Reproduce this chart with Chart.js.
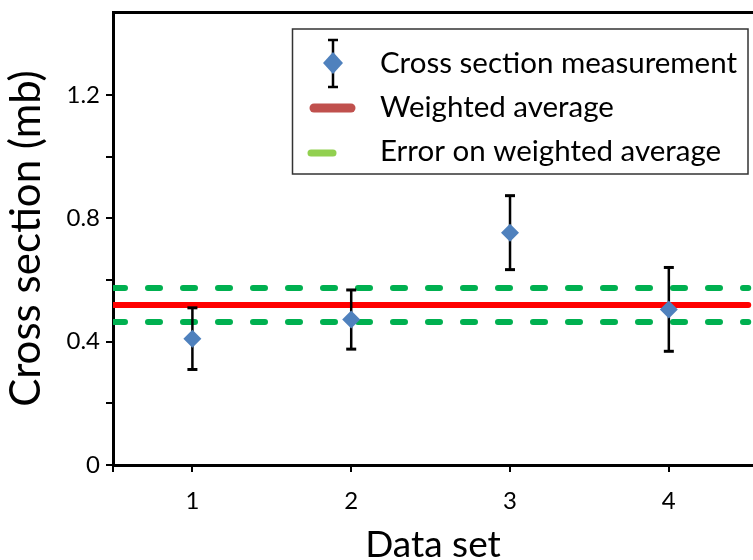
<!DOCTYPE html>
<html>
<head>
<meta charset="utf-8">
<script src="https://cdn.jsdelivr.net/npm/chart.js@4/dist/chart.umd.min.js"></script>
<style>
  html, body { margin: 0; padding: 0; background: #fff; }
  canvas { display: block; }
</style>
</head>
<body>
<canvas id="chart" width="753" height="560"></canvas>
<script>
// values
const dataSets = [1, 2, 3, 4];
const crossSection = [0.41, 0.472, 0.754, 0.505];
const crossErr = [0.10, 0.096, 0.12, 0.136];
const avgSpan = [0.5, 4.5];
const weightedAvg = 0.519;
const weightedErr = 0.055;
const yTicks = [0, 0.2, 0.4, 0.6, 0.8, 1.0, 1.2];
const xTicks = [0.5, 1, 2, 3, 4];

const labels = ["Cross section measurement", "Weighted average", "Error on weighted average"];

const FONT = "Lato";

const points = dataSets.map((x, i) => ({ x: x, y: crossSection[i] }));

// each error bar is two points, then a gap
const bars = [];
dataSets.forEach((x, i) => {
  bars.push({ x: x, y: crossSection[i] - crossErr[i] });
  bars.push({ x: x, y: crossSection[i] + crossErr[i] });
  bars.push({ x: x, y: null });
});

const flatLine = v => avgSpan.map(x => ({ x: x, y: v }));

// legend drawn inside the plot, with a box round it
const boxLegend = {
  id: "boxLegend",
  afterDraw(chart) {
    const ctx = chart.ctx;
    ctx.save();
    ctx.strokeStyle = "#333";
    ctx.lineWidth = 1.5;
    ctx.strokeRect(292.5, 29, 455.5, 145);

    // error bar + diamond
    ctx.strokeStyle = "#000";
    ctx.lineWidth = 2.5;
    ctx.beginPath();
    ctx.moveTo(333, 40); ctx.lineTo(333, 87);
    ctx.moveTo(328, 40); ctx.lineTo(338, 40);
    ctx.moveTo(328, 87); ctx.lineTo(338, 87);
    ctx.stroke();
    ctx.fillStyle = "#4F81BD";
    ctx.beginPath();
    ctx.moveTo(333, 52); ctx.lineTo(343, 63); ctx.lineTo(333, 74); ctx.lineTo(323, 63);
    ctx.closePath();
    ctx.fill();

    ctx.lineCap = "round";
    ctx.strokeStyle = "#C0504D";
    ctx.lineWidth = 9;
    ctx.beginPath(); ctx.moveTo(314, 108); ctx.lineTo(351, 108); ctx.stroke();

    ctx.strokeStyle = "#92D050";
    ctx.lineWidth = 7;
    ctx.beginPath(); ctx.moveTo(311, 153); ctx.lineTo(333, 153); ctx.stroke();

    ctx.fillStyle = "#000";
    ctx.font = "29.5px " + FONT;
    ctx.textBaseline = "alphabetic";
    ctx.fillText(labels[0], 380, 73);
    ctx.fillText(labels[1], 380, 117);
    ctx.fillText(labels[2], 380, 161);
    ctx.restore();
  }
};

new Chart(document.getElementById("chart"), {
  type: "scatter",
  data: {
    datasets: [
      {
        label: labels[0],
        data: points,
        pointStyle: "rectRot",
        pointRadius: 9,
        pointBackgroundColor: "#4F81BD",
        pointBorderColor: "#4F81BD",
        pointBorderWidth: 0,
        showLine: false
      },
      {
        label: "errors",
        type: "line",
        data: bars,
        borderColor: "#000",
        borderWidth: 2.5,
        spanGaps: false,
        pointStyle: "line",
        pointRadius: 5,
        pointBorderWidth: 3,
        pointBorderColor: "#000"
      },
      {
        label: labels[1],
        type: "line",
        data: flatLine(weightedAvg),
        borderColor: "#FF0000",
        borderWidth: 6,
        borderCapStyle: "round",
        pointRadius: 0
      },
      {
        label: labels[2],
        type: "line",
        data: flatLine(weightedAvg + weightedErr),
        borderColor: "#00B050",
        borderWidth: 6,
        borderCapStyle: "round",
        borderDash: [12, 23],
        pointRadius: 0
      },
      {
        label: labels[2] + " low",
        type: "line",
        data: flatLine(weightedAvg - weightedErr),
        borderColor: "#00B050",
        borderWidth: 6,
        borderCapStyle: "round",
        borderDash: [12, 23],
        pointRadius: 0
      }
    ]
  },
  options: {
    responsive: false,
    animation: false,
    devicePixelRatio: 1,
    layout: { autoPadding: false, padding: { top: 12, right: 0, bottom: 0, left: 0 } },
    plugins: {
      legend: { display: false },
      tooltip: { enabled: false }
    },
    scales: {
      x: {
        type: "linear",
        min: 0.5,
        max: 4.53,
        afterBuildTicks: s => { s.ticks = xTicks.map(v => ({ value: v })); },
        afterFit: s => { s.height = 95; s.paddingLeft = 0; s.paddingRight = 0; },
        border: { color: "#000", width: 3 },
        grid: { drawOnChartArea: false, drawTicks: true, tickLength: 7, color: "#000", lineWidth: 2 },
        ticks: {
          color: "#000",
          padding: 15,
          font: { family: FONT, size: 24 },
          callback: v => (v === 0.5 ? "" : String(v))
        },
        title: {
          display: true,
          text: "Data set",
          color: "#000",
          font: { family: FONT, size: 37, lineHeight: 0.8 },
          padding: { top: 0, bottom: 0 }
        }
      },
      xTop: {
        type: "linear",
        position: "top",
        min: 0.5,
        max: 4.53,
        afterFit: s => { s.height = 0; s.paddingLeft = 0; s.paddingRight = 0; },
        border: { color: "#000", width: 3 },
        grid: { display: false },
        ticks: { display: false }
      },
      y: {
        min: 0,
        max: 1.47,
        afterBuildTicks: s => { s.ticks = yTicks.map(v => ({ value: v })); },
        afterFit: s => { s.width = 113; s.paddingTop = 0; s.paddingBottom = 0; },
        border: { color: "#000", width: 3 },
        grid: { drawOnChartArea: false, drawTicks: true, tickLength: 7, color: "#000", lineWidth: 2 },
        ticks: {
          color: "#000",
          padding: 6,
          font: { family: FONT, size: 24 },
          callback: v => {
            const r = Math.round(v * 10) / 10;
            return Math.round(r * 10) % 4 === 0 ? String(r) : "";
          }
        },
        title: {
          display: true,
          text: "Cross section (mb)",
          color: "#000",
          font: { family: FONT, size: 42, lineHeight: 1 },
          padding: { top: 5, bottom: 0 }
        }
      }
    }
  },
  plugins: [boxLegend]
});
</script>
</body>
</html>
